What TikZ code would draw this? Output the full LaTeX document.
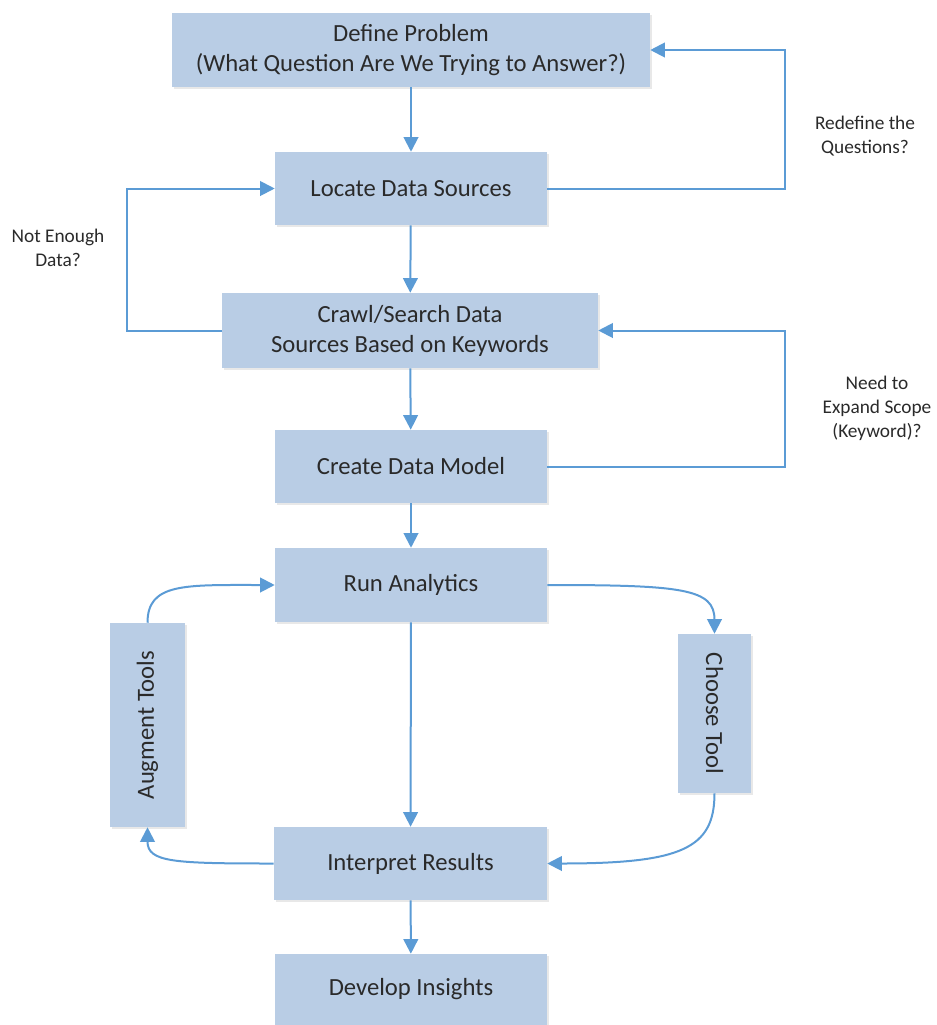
\documentclass[tikz,border=0pt]{standalone}
\usepackage{fontspec}
\setmainfont{Carlito}
\usetikzlibrary{arrows.meta,shadows}
\definecolor{boxfill}{HTML}{B9CDE5}
\definecolor{flow}{HTML}{5B9BD5}
\definecolor{ink}{HTML}{2A2A2A}
\begin{document}
\begin{tikzpicture}[x=0.75pt,y=-0.75pt,
  stepbox/.style={draw=none,fill=boxfill,text=ink,align=center,inner sep=0pt,
    font=\fontsize{18.5}{22.5}\selectfont,
    drop shadow={opacity=0.18,shadow xshift=1.2pt,shadow yshift=-1.2pt}},
  flowline/.style={draw=flow,line width=1.5pt,-{Triangle[length=11pt,width=11pt]}},
  note/.style={text=ink,align=center,font=\fontsize{14.5}{18}\selectfont}]
\useasboundingbox (0,0) rectangle (937,1025);

% process steps
\node[stepbox,minimum width=358.5pt,minimum height=55.5pt] (define) at (411,50)
  {Define Problem\\(What Question Are We Trying to Answer?)};
\node[stepbox,minimum width=204pt,minimum height=54.75pt] (locate) at (411,188.5) {Locate Data Sources};
\node[stepbox,minimum width=282pt,minimum height=56.25pt] (crawl) at (410,330.5)
  {Crawl/Search Data\\Sources Based on Keywords};
\node[stepbox,minimum width=204pt,minimum height=54.75pt] (model) at (411,466.5) {Create Data Model};
\node[stepbox,minimum width=204pt,minimum height=55.5pt] (run) at (411,585) {Run Analytics};
\node[stepbox,minimum width=56.25pt,minimum height=153pt] (augment) at (147.5,725)
  {\rotatebox{90}{Augment Tools}};
\node[stepbox,minimum width=54.75pt,minimum height=119.25pt] (choose) at (714.5,713.5)
  {\rotatebox{-90}{Choose Tool}};
\node[stepbox,minimum width=204.75pt,minimum height=54.75pt] (interp) at (410.5,863.5) {Interpret Results};
\node[stepbox,minimum width=204pt,minimum height=53.25pt] (insight) at (411,989.5) {Develop Insights};

% loop corners and labels
\coordinate (rq) at (785,0);
\coordinate (ne) at (127,0);
\coordinate (ks) at (785,0);
\node[note] (lblredef) at (865,136) {Redefine the\\Questions?};
\node[note] (lblenough) at (58,248) {Not Enough\\Data?};
\node[note] (lblscope) at (877,408) {Need to\\Expand Scope\\(Keyword)?};

% main flow
\draw[flowline] (define) -- (locate);
\draw[flowline] (locate) -- (crawl);
\draw[flowline] (crawl) -- (model);
\draw[flowline] (model) -- (run);
\draw[flowline] (run) -- (interp);
\draw[flowline] (interp) -- (insight);

% feedback loops
\draw[flowline] (locate.east) -- (locate.east -| rq) -- (define.east -| rq) -- (define.east);
\draw[flowline] (crawl.west) -- (crawl.west -| ne) -- (locate.west -| ne) -- (locate.west);
\draw[flowline] (model.east) -- (model.east -| ks) -- (crawl.east -| ks) -- (crawl.east);

% tool cycle
\draw[flowline] (run.east) .. controls +(135,0) and +(0,-45) .. (choose.north);
\draw[flowline] (choose.south) .. controls +(0,55) and +(135,0) .. (interp.east);
\draw[flowline] (interp.west) .. controls +(-100,0) and +(0,35) .. (augment.south);
\draw[flowline] (augment.north) .. controls +(0,-40) and +(-90,0) .. (run.west);
\end{tikzpicture}
\end{document}
